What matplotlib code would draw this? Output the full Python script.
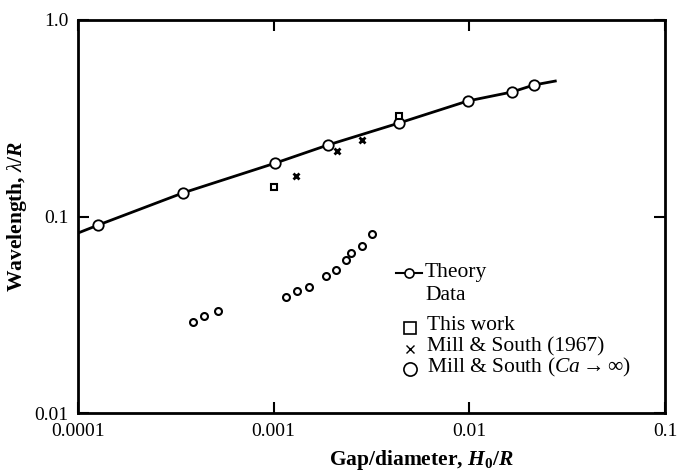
import matplotlib
matplotlib.use("Agg")
import matplotlib.pyplot as plt

plt.rcParams['font.family'] = ['Liberation Serif', 'DejaVu Serif']
plt.rcParams['mathtext.fontset'] = 'custom'
plt.rcParams['mathtext.rm'] = 'Liberation Serif'
plt.rcParams['mathtext.it'] = 'Liberation Serif:italic'
plt.rcParams['mathtext.bf'] = 'Liberation Serif:bold'
plt.rcParams['mathtext.bfit'] = 'Liberation Serif:italic:bold'

# Theory curve (line) and theory points
theory_line_x = [1.0e-4, 1.27e-4, 3.45e-4, 1.02e-3, 1.89e-3, 4.37e-3, 9.8e-3, 0.0165, 0.0214, 0.0275]
theory_line_y = [0.0824, 0.0905, 0.132, 0.187, 0.231, 0.299, 0.387, 0.430, 0.467, 0.489]
theory_pts_x = [1.27e-4, 3.45e-4, 1.02e-3, 1.89e-3, 4.37e-3, 9.8e-3, 0.0165, 0.0214]
theory_pts_y = [0.0905, 0.132, 0.187, 0.231, 0.299, 0.387, 0.430, 0.467]

# Data: this work (squares)
this_work_x = [1.00e-3, 4.37e-3]
this_work_y = [0.141, 0.325]

# Data: Mill & South (1967) (crosses)
ms1967_x = [1.30e-3, 2.10e-3, 2.83e-3]
ms1967_y = [0.161, 0.216, 0.245]

# Data: Mill & South (Ca -> inf) (small circles)
msinf_x = [3.89e-4, 4.43e-4, 5.22e-4, 1.16e-3, 1.32e-3, 1.51e-3, 1.85e-3, 2.08e-3, 2.34e-3, 2.49e-3, 2.83e-3, 3.18e-3]
msinf_y = [0.0291, 0.0312, 0.0330, 0.0389, 0.0418, 0.0438, 0.0498, 0.0534, 0.0601, 0.0652, 0.0708, 0.0815]

xticks = [1e-4, 1e-3, 1e-2, 1e-1]
xticklabels = ['0.0001', '0.001', '0.01', '0.1']
yticks = [0.01, 0.1, 1.0]
yticklabels = ['0.01', '0.1', '1.0']

W, H = 679, 474
fig = plt.figure(figsize=(W / 100, H / 100), dpi=100)
ax = fig.add_axes([78 / W, 1 - 413 / H, 587 / W, 393 / H])
ax.set_xscale('log')
ax.set_yscale('log')
ax.set_xlim(1e-4, 1e-1)
ax.set_ylim(0.01, 1.0)

ax.plot(theory_line_x, theory_line_y, color='black', lw=2.0, zorder=2)
ax.plot(theory_pts_x, theory_pts_y, ls='none', marker='o', ms=7.5, mfc='white',
        mec='black', mew=1.3, zorder=3)
ax.plot(this_work_x, this_work_y, ls='none', marker='s', ms=4.5, mfc='white',
        mec='black', mew=1.5, zorder=4)
ax.plot(ms1967_x, ms1967_y, ls='none', marker='x', ms=4.5, mec='black', mew=2.0, zorder=4)
ax.plot(msinf_x, msinf_y, ls='none', marker='o', ms=5, mfc='white',
        mec='black', mew=1.5, zorder=4)

ax.set_xticks(xticks)
ax.set_xticklabels(xticklabels)
ax.set_yticks(yticks)
ax.set_yticklabels(yticklabels)
ax.minorticks_off()
ax.tick_params(which='major', direction='in', length=8, width=1.5, labelsize=14,
               top=True, right=True, pad=7, colors='black')
for s in ax.spines.values():
    s.set_linewidth(2.0)

ax.set_xlabel(r'Gap/diameter, $\mathbfit{H}_\mathbf{0}\mathbf{/}\mathbfit{R}$', fontsize=15.5,
              fontweight='bold')
ax.set_ylabel(r'Wavelength, $\mathit{\lambda}\mathbf{/}\mathbfit{R}$', fontsize=15.5,
              fontweight='bold')
ax.xaxis.set_label_coords((421 - 78) / 587, (413 - 448) / 393)
ax.yaxis.set_label_coords((29 - 78) / 587, 0.5)


def fp(px, py):
    return px / W, 1 - py / H


LFS = 15.5
# Manual legend
fig.add_artist(plt.Line2D([396 / W, 422 / W], [1 - 273 / H, 1 - 273 / H], color='black', lw=1.5))
fig.add_artist(plt.Line2D([409 / W], [1 - 273 / H], marker='o', ms=6.5, mfc='white', mec='black',
                          mew=1.2, ls='none'))
fig.text(*fp(425, 273), 'Theory', fontsize=LFS, va='center', ha='left')
fig.text(*fp(425, 295), 'Data', fontsize=LFS, va='center', ha='left')
fig.add_artist(plt.Line2D([410 / W], [1 - 328 / H], marker='s', ms=8.5, mfc='white', mec='black',
                          mew=1.2, ls='none'))
fig.text(*fp(427, 326), 'This work', fontsize=LFS, va='center', ha='left')
fig.add_artist(plt.Line2D([410 / W], [1 - 349 / H], marker='x', ms=5.5, mec='black',
                          mew=1.0, ls='none'))
fig.text(*fp(427, 347), 'Mill & South (1967)', fontsize=LFS, va='center', ha='left')
fig.add_artist(plt.Line2D([410 / W], [1 - 369 / H], marker='o', ms=9.5, mfc='white', mec='black',
                          mew=1.2, ls='none'))
fig.text(*fp(427, 367), r'Mill & South ($Ca \rightarrow \infty$)', fontsize=LFS, va='center', ha='left')

fig.savefig('out.png', dpi=100)
